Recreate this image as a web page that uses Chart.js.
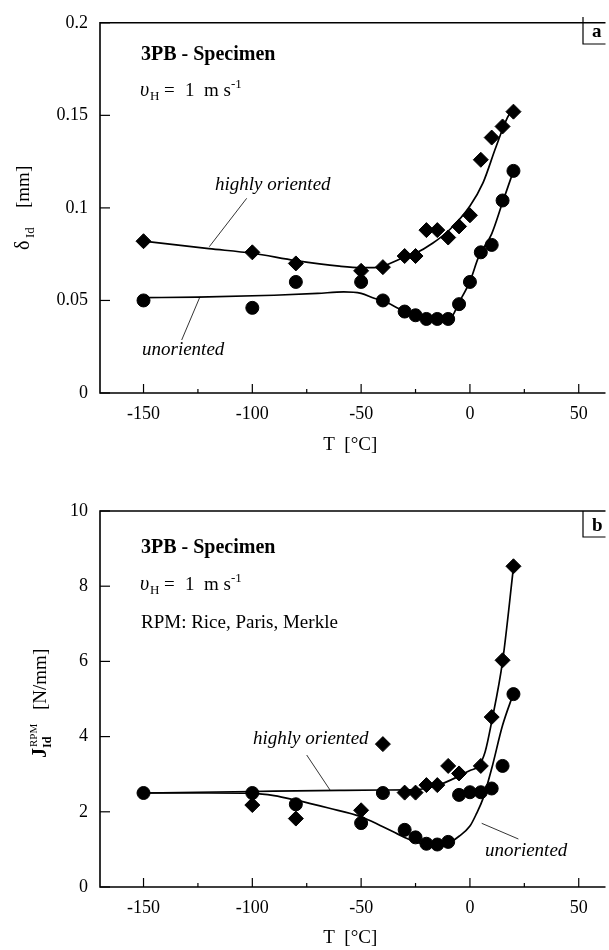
<!DOCTYPE html>
<html>
<head>
<meta charset="utf-8">
<script src="https://cdn.jsdelivr.net/npm/chart.js@4.4.1/dist/chart.umd.min.js"></script>
<style>
    body { margin: 0; background: #fff; }
    canvas { display: block; }
</style>
</head>
<body>
<canvas id="chartA" width="609" height="470"></canvas>
<canvas id="chartB" width="609" height="480"></canvas>
<script>
// axis ticks (°C)
const xTicks = [-150, -100, -50, 0, 50];
const xMinorTicks = [-125, -75, -25, 25];
const yTicksA = [0, 0.05, 0.1, 0.15, 0.2];
const yTicksB = [0, 2, 4, 6, 8, 10];

// panel a: delta_Id [mm]
const tempA = [-150, -100, -80, -50, -40, -30, -25, -20, -15, -10, -5, 0, 5, 10, 15, 20];
const deltaHighly = [0.082, 0.076, 0.070, 0.066, 0.068, 0.074, 0.074, 0.088, 0.088, 0.084, 0.090, 0.096, 0.126, 0.138, 0.144, 0.152];
const deltaUnoriented = [0.050, 0.046, 0.060, 0.060, 0.050, 0.044, 0.042, 0.040, 0.040, 0.040, 0.048, 0.060, 0.076, 0.080, 0.104, 0.120];

// fitted curves, panel a
const fitTempHighlyA = [-150, -120, -100, -80, -60, -50, -44, -40, -30, -25, -17, -9, 0, 6, 12, 18, 20];
const fitHighlyA = [0.082, 0.078, 0.0755, 0.0715, 0.0685, 0.0677, 0.0677, 0.0685, 0.0735, 0.0755, 0.081, 0.0886, 0.101, 0.1135, 0.133, 0.1505, 0.152];
const fitTempUnorA = [-150, -125, -90, -70, -58, -50, -44, -40, -30, -21, -9, -5, 0, 4, 10, 15, 20];
const fitUnorA = [0.0515, 0.0518, 0.0528, 0.0538, 0.0546, 0.0538, 0.0512, 0.0498, 0.0442, 0.0407, 0.0407, 0.049, 0.0603, 0.0735, 0.086, 0.103, 0.12];

// panel b: J_Id^RPM [N/mm]
const tempHighlyB = [-100, -80, -50, -40, -30, -25, -20, -15, -10, -5, 5, 10, 15, 20];
const jHighly = [2.18, 1.82, 2.04, 3.8, 2.51, 2.51, 2.71, 2.71, 3.22, 3.02, 3.22, 4.52, 6.03, 8.53];
const tempUnorB = [-150, -100, -80, -50, -40, -30, -25, -20, -15, -10, -5, 0, 5, 10, 15, 20];
const jUnoriented = [2.5, 2.5, 2.2, 1.7, 2.5, 1.52, 1.32, 1.15, 1.13, 1.2, 2.45, 2.52, 2.52, 2.62, 3.22, 5.13];

// fitted curves, panel b
const fitTempHighlyB = [-150, -100, -60, -40, -25, -15, -5, 0, 4, 7, 10, 15, 20];
const fitHighlyB = [2.5, 2.54, 2.57, 2.58, 2.59, 2.7, 2.95, 3.1, 3.22, 3.6, 4.4, 6.0, 8.5];
const fitTempUnorB = [-150, -120, -100, -90, -80, -65, -50, -40, -35, -30, -25, -20, -15, -10, -5, 0, 3, 6, 10, 15, 20];
const fitUnorB = [2.5, 2.5, 2.49, 2.43, 2.31, 2.1, 1.87, 1.6, 1.46, 1.32, 1.2, 1.13, 1.11, 1.16, 1.35, 1.62, 1.95, 2.35, 3.15, 4.3, 5.15];

const serif = '"Liberation Serif", "Times New Roman", serif';
const pts = (xs, ys) => xs.map((x, i) => ({ x, y: ys[i] }));

// text, leaders and frame for each panel (canvas pixels)
const notes = {
    chartA: {
        yTicks: yTicksA,
        box: { x: 583, top: 17, bottom: 44, label: "a", lx: 592, ly: 37 },
        head: 60, vel: 96, rpm: null,
        texts: [
            { t: "highly oriented", font: "italic 19px", x: 215, y: 190 },
            { t: "unoriented", font: "italic 19px", x: 142, y: 355 }
        ],
        leaders: [[246.7, 198.3, 209.3, 246.7], [200, 296.7, 181.7, 340]],
        ytitle: { x: 29, y: 250, parts: [
            { t: "\u03b4", font: "20px", p: 0 },
            { t: "Id", font: "13px", p: 12, dy: 5 },
            { t: "[mm]", font: "19px", p: 42 }
        ] },
        xtitleY: 450
    },
    chartB: {
        yTicks: yTicksB,
        box: { x: 583, top: 41, bottom: 67, label: "b", lx: 592, ly: 61 },
        head: 83, vel: 120, rpm: 158,
        texts: [
            { t: "highly oriented", font: "italic 19px", x: 253, y: 274 },
            { t: "unoriented", font: "italic 19px", x: 485, y: 386 }
        ],
        leaders: [[306.7, 285, 330, 320], [481.7, 353.3, 518.4, 369]],
        ytitle: { x: 46, y: 288, parts: [
            { t: "J", font: "bold 20px", p: 0 },
            { t: "Id", font: "bold 12px", p: 10, dy: 5 },
            { t: "RPM", font: "11px", p: 11, dy: -9 },
            { t: "[N/mm]", font: "19px", p: 48 }
        ] },
        xtitleY: 473
    }
};

function seg(ctx, x1, y1, x2, y2) {
    ctx.beginPath();
    ctx.moveTo(x1, y1);
    ctx.lineTo(x2, y2);
    ctx.stroke();
}

const paperPlugin = {
    id: "paper",
    afterDraw(chart) {
        const n = notes[chart.canvas.id];
        const ctx = chart.ctx, a = chart.chartArea;
        const xs = chart.scales.x, ys = chart.scales.y;
        ctx.save();
        ctx.strokeStyle = "#000";
        ctx.fillStyle = "#000";

        // frame (right side falls outside the picture)
        ctx.lineWidth = 1.6;
        ctx.beginPath();
        ctx.moveTo(a.right + 5, a.top);
        ctx.lineTo(a.left, a.top);
        ctx.lineTo(a.left, a.bottom);
        ctx.lineTo(a.right + 5, a.bottom);
        ctx.stroke();

        // inward ticks
        ctx.lineWidth = 1.2;
        xTicks.forEach(v => { const px = xs.getPixelForValue(v); seg(ctx, px, a.bottom, px, a.bottom - 9); });
        xMinorTicks.forEach(v => { const px = xs.getPixelForValue(v); seg(ctx, px, a.bottom, px, a.bottom - 4); });
        n.yTicks.forEach(v => { const py = ys.getPixelForValue(v); seg(ctx, a.left, py, a.left + 10, py); });

        // panel letter box
        const b = n.box;
        ctx.lineWidth = 1.2;
        ctx.beginPath();
        ctx.moveTo(b.x, b.top);
        ctx.lineTo(b.x, b.bottom);
        ctx.lineTo(a.right + 5, b.bottom);
        ctx.stroke();
        ctx.font = "bold 19px " + serif;
        ctx.textBaseline = "alphabetic";
        ctx.textAlign = "left";
        ctx.fillText(b.label, b.lx, b.ly);

        // header lines
        ctx.font = "bold 20px " + serif;
        ctx.fillText("3PB - Specimen", 141, n.head);
        ctx.font = "italic 20px " + serif;
        ctx.fillText("\u03c5", 140, n.vel);
        ctx.font = "13px " + serif;
        ctx.fillText("H", 150, n.vel + 4);
        ctx.font = "19px " + serif;
        ctx.fillText("=", 164, n.vel);
        ctx.fillText("1", 185, n.vel);
        ctx.fillText("m s", 204, n.vel);
        ctx.font = "13px " + serif;
        ctx.fillText("-1", 231, n.vel - 8);
        if (n.rpm) {
            ctx.font = "19px " + serif;
            ctx.fillText("RPM: Rice, Paris, Merkle", 141, n.rpm);
        }

        // curve labels and leader lines
        n.texts.forEach(t => {
            ctx.font = t.font + " " + serif;
            ctx.fillText(t.t, t.x, t.y);
        });
        ctx.lineWidth = 0.8;
        n.leaders.forEach(l => seg(ctx, l[0], l[1], l[2], l[3]));

        // axis titles
        ctx.font = "19px " + serif;
        ctx.textAlign = "center";
        ctx.fillText("T  [\u00b0C]", (a.left + a.right) / 2, n.xtitleY);
        ctx.textAlign = "left";
        ctx.translate(n.ytitle.x, n.ytitle.y);
        ctx.rotate(-Math.PI / 2);
        n.ytitle.parts.forEach(p => {
            ctx.font = p.font + " " + serif;
            ctx.fillText(p.t, p.p, p.dy || 0);
        });
        ctx.restore();
    }
};

function buildChart(id, cfg) {
    const lineStyle = {
        showLine: true, pointRadius: 0, borderColor: "#000", borderWidth: 1.7,
        cubicInterpolationMode: "monotone", fill: false
    };
    return new Chart(document.getElementById(id), {
        type: "scatter",
        data: {
            datasets: [
                { data: cfg.circles, pointStyle: "circle", pointRadius: 6.5, backgroundColor: "#000", borderColor: "#000", order: 1 },
                { data: cfg.diamonds, pointStyle: "rectRot", pointRadius: 7.5, backgroundColor: "#000", borderColor: "#000", order: 2 },
                Object.assign({ data: cfg.fitHigh, order: 3 }, lineStyle),
                Object.assign({ data: cfg.fitLow, order: 4 }, lineStyle)
            ]
        },
        options: {
            responsive: false,
            animation: false,
            layout: { padding: { top: cfg.top, right: 0, left: 0, bottom: 0 } },
            plugins: { legend: { display: false }, tooltip: { enabled: false } },
            scales: {
                x: {
                    type: "linear", min: -170, max: 60,
                    grid: { display: false, drawTicks: false },
                    border: { display: false },
                    afterBuildTicks: s => { s.ticks = xTicks.map(v => ({ value: v })); },
                    afterFit: s => { s.height = cfg.xHeight; },
                    ticks: { padding: 10, color: "#000", maxRotation: 0, autoSkip: false, font: { family: serif, size: 18 } }
                },
                y: {
                    type: "linear", min: 0, max: cfg.yMax,
                    grid: { display: false, drawTicks: false },
                    border: { display: false },
                    afterBuildTicks: s => { s.ticks = cfg.yTicks.map(v => ({ value: v })); },
                    afterFit: s => { s.width = 100; },
                    ticks: { padding: 12, color: "#000", autoSkip: false, font: { family: serif, size: 18 }, callback: v => String(v) }
                }
            }
        },
        plugins: [paperPlugin]
    });
}

buildChart("chartA", {
    top: 17, xHeight: 77, yMax: 0.2, yTicks: yTicksA,
    circles: pts(tempA, deltaUnoriented),
    diamonds: pts(tempA, deltaHighly),
    fitHigh: pts(fitTempHighlyA, fitHighlyA),
    fitLow: pts(fitTempUnorA, fitUnorA)
});

buildChart("chartB", {
    top: 41, xHeight: 63, yMax: 10, yTicks: yTicksB,
    circles: pts(tempUnorB, jUnoriented),
    diamonds: pts(tempHighlyB, jHighly),
    fitHigh: pts(fitTempHighlyB, fitHighlyB),
    fitLow: pts(fitTempUnorB, fitUnorB)
});
</script>
</body>
</html>
